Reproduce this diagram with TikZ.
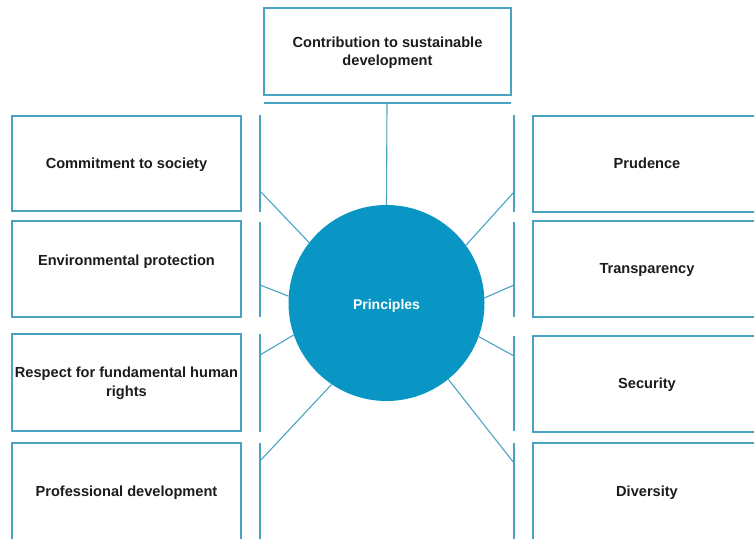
\documentclass[tikz,border=0pt]{standalone}
\usepackage{fontspec}
\setmainfont{Liberation Sans}
\definecolor{ringline}{HTML}{4AA3C0}
\definecolor{hubfill}{HTML}{0A96C4}
\definecolor{labeltext}{HTML}{1C1C1C}
\begin{document}
\begin{tikzpicture}[x=1pt,y=-1pt,
  every node/.style={inner sep=0pt},
  lbl/.style={font=\fontsize{14.6}{18.5}\selectfont\bfseries, text=labeltext, align=center},
  pbox/.style={draw=ringline, line width=1.3pt, fill=white},
  sidebox/.style={pbox, minimum width=229pt},
  txt/.style={label={[lbl, yshift=-1pt]center:#1}},
  hub/.style={circle, fill=hubfill, minimum size=196pt},
  rail/.style={draw=ringline, line width=1.4pt},
  spoke/.style={draw=ringline, line width=1.1pt}]
\useasboundingbox (0,0) rectangle (754,538);
\clip (0,0) rectangle (754,538);

% central circle
\node[hub, label={[text=white, font=\fontsize{14}{17}\selectfont\bfseries, yshift=-3pt]center:Principles}] (P) at (386.5,303) {};

% top box and its rail
\node[pbox, minimum width=247pt, minimum height=87pt,
      txt={Contribution to sustainable\\development}] (top) at (387.5,51.5) {};
\coordinate (topL) at (264,103);
\coordinate (topR) at (511,103);
\coordinate (topJ) at (387,103);
\draw[rail] (topL) -- (topR);
\draw[spoke] (topJ) -- (P.north);

% left column
\node[sidebox, minimum height=95pt, txt={Commitment to society}] (l1) at (126.5,163.5) {};
\node[sidebox, minimum height=96pt, label={[lbl, yshift=7pt]center:Environmental protection}] (l2) at (126.5,269) {};
\node[sidebox, minimum height=97pt, txt={Respect for fundamental human\\rights}] (l3) at (126.5,382.5) {};
\node[sidebox, minimum height=97pt, txt={Professional development}] (l4) at (126.5,491.5) {};

% right column
\node[sidebox, minimum width=228pt, minimum height=96pt, label={[lbl, yshift=1pt]center:Prudence}] (r1) at (647,164) {};
\node[sidebox, minimum width=228pt, minimum height=96pt, txt={Transparency}] (r2) at (647,269) {};
\node[sidebox, minimum width=228pt, minimum height=96pt, txt={Security}] (r3) at (647,384) {};
\node[sidebox, minimum width=228pt, minimum height=97pt, txt={Diversity}] (r4) at (647,491.5) {};

% vertical rails beside the columns
\foreach \n/\a/\b in {1/115/212, 2/222/317, 3/334/432, 4/443/545}{
  \coordinate (la\n) at (260,\a); \coordinate (lb\n) at (260,\b);
  \draw[rail] (la\n) -- (lb\n);
}
\foreach \n/\a/\b in {1/115/212, 2/222/317, 3/336/431, 4/443/545}{
  \coordinate (ra\n) at (514,\a); \coordinate (rb\n) at (514,\b);
  \draw[rail] (ra\n) -- (rb\n);
}

% spokes from the circle to the rails
\coordinate (L1) at (260,191);
\coordinate (L2) at (260,285);
\coordinate (L3) at (260,355);
\coordinate (L4) at (260,461);
\coordinate (R1) at (514,192);
\coordinate (R2) at (514,285);
\coordinate (R3) at (514,356);
\coordinate (R4) at (514,463);
\draw[spoke] (P.142) -- (L1);
\draw[spoke] (P.176) -- (L2);
\draw[spoke] (P.199) -- (L3);
\draw[spoke] (P.236) -- (L4);
\draw[spoke] (P.36) -- (R1);
\draw[spoke] (P.3) -- (R2);
\draw[spoke] (P.-20) -- (R3);
\draw[spoke] (P.-51) -- (R4);
\end{tikzpicture}
\end{document}
